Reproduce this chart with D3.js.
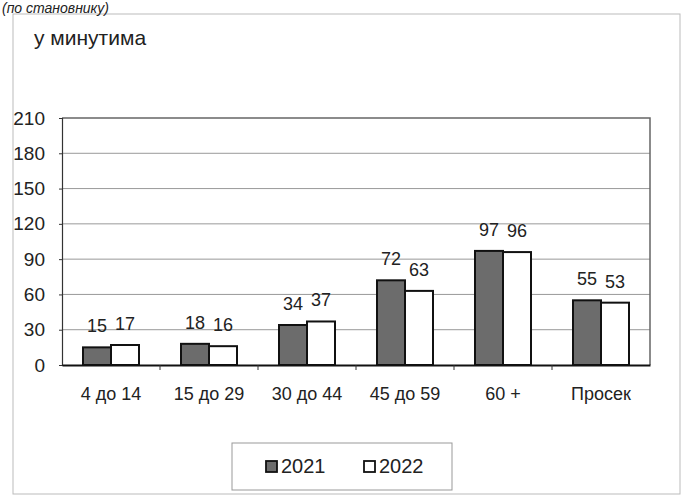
<!DOCTYPE html>
<meta charset="utf-8">
<script src="https://d3js.org/d3.v7.min.js"></script>
<style>
  body { margin: 0; background: #fff; }
  text { font-family: "Liberation Sans", Arial, sans-serif; fill: #222; }
</style>
<div id="my_dataviz"></div>
<script>

// data
var categories = ["4 до 14", "15 до 29", "30 до 44", "45 до 59", "60 +", "Просек"];
var years = ["2021", "2022"];
var values2021 = [15, 18, 34, 72, 97, 55];
var values2022 = [17, 16, 37, 63, 96, 53];
var yTicks = [0, 30, 60, 90, 120, 150, 180, 210];
var colors = {"2021": "#6c6c6c", "2022": "#ffffff"};

// dimensions
var W = 685, H = 498;
var margin = {top: 118, right: 35, bottom: 133, left: 62},
    width = W - margin.left - margin.right,
    height = H - margin.top - margin.bottom;

var svg = d3.select("#my_dataviz")
  .append("svg")
    .attr("width", W)
    .attr("height", H);

// outer frame
svg.append("rect")
  .attr("x", 13).attr("y", 14)
  .attr("width", 667).attr("height", 480)
  .attr("fill", "none")
  .attr("stroke", "#bbb")
  .attr("stroke-width", 1);

// heading from the page above (cut by the scan in the original)
svg.append("text")
  .attr("x", 2).attr("y", 13)
  .style("font-style", "italic")
  .style("font-size", "14px")
  .text("(по становнику)");

// unit label
svg.append("text")
  .attr("x", 34).attr("y", 45)
  .style("font-size", "21px")
  .text("у минутима");

var g = svg.append("g")
  .attr("transform", "translate(" + margin.left + "," + margin.top + ")");

var x = d3.scaleBand()
  .domain(categories)
  .range([0, width]);

var x1 = d3.scaleBand()
  .domain(years)
  .range([0, x.bandwidth()])
  .paddingInner(0)
  .paddingOuter(0.75);

var y = d3.scaleLinear()
  .domain([0, 210])
  .range([height, 0]);

// gridlines
g.selectAll(".grid")
  .data(yTicks.filter(function(d) { return d > 0 && d < 210; }))
  .enter().append("line")
    .attr("x1", 0).attr("x2", width)
    .attr("y1", function(d) { return y(d); })
    .attr("y2", function(d) { return y(d); })
    .attr("stroke", "#999")
    .attr("stroke-width", 1);

// plot border top & right
g.append("path")
  .attr("d", "M0," + y(210) + "H" + width + "V" + y(0))
  .attr("fill", "none")
  .attr("stroke", "#666")
  .attr("stroke-width", 1.5);

// Y axis
var yAxis = g.append("g")
  .call(d3.axisLeft(y).tickValues(yTicks).tickSize(3).tickPadding(14));
yAxis.select(".domain").attr("stroke", "#333").attr("stroke-width", 1.2);
yAxis.selectAll(".tick line").attr("stroke", "#333");
yAxis.selectAll("text").style("font-size", "19px").attr("fill", "#222");

// bars
var rows = categories.map(function(c, i) {
  return {cat: c, vals: [{year: "2021", v: values2021[i]}, {year: "2022", v: values2022[i]}]};
});

var groups = g.selectAll(".grp")
  .data(rows)
  .enter().append("g")
    .attr("transform", function(d) { return "translate(" + x(d.cat) + ",0)"; });

groups.selectAll("rect")
  .data(function(d) { return d.vals; })
  .enter().append("rect")
    .attr("x", function(d) { return x1(d.year); })
    .attr("y", function(d) { return y(d.v); })
    .attr("width", x1.bandwidth())
    .attr("height", function(d) { return y(0) - y(d.v); })
    .attr("fill", function(d) { return colors[d.year]; })
    .attr("stroke", "#111")
    .attr("stroke-width", 2);

groups.selectAll(".lbl")
  .data(function(d) { return d.vals; })
  .enter().append("text")
    .attr("x", function(d) { return x1(d.year) + x1.bandwidth() / 2; })
    .attr("y", function(d) { return y(d.v) - 15; })
    .attr("text-anchor", "middle")
    .style("font-size", "18px")
    .text(function(d) { return d.v; });

// X axis
var xAxis = g.append("g")
  .attr("transform", "translate(0," + height + ")")
  .call(d3.axisBottom(x).tickSize(0).tickPadding(22));
xAxis.select(".domain").attr("stroke", "#111").attr("stroke-width", 2);
xAxis.selectAll("text").style("font-size", "18px").attr("fill", "#222");

// category separator ticks
g.selectAll(".sep")
  .data(categories.slice(1))
  .enter().append("line")
    .attr("x1", function(d) { return x(d); })
    .attr("x2", function(d) { return x(d); })
    .attr("y1", height).attr("y2", height + 5)
    .attr("stroke", "#333");

// legend
var legend = svg.append("g").attr("transform", "translate(232,443)");
legend.append("rect")
  .attr("width", 220).attr("height", 47)
  .attr("fill", "none")
  .attr("stroke", "#999");

var items = legend.selectAll(".item")
  .data(years)
  .enter().append("g")
    .attr("transform", function(d, i) { return "translate(" + (34 + i * 98) + ",18)"; });

items.append("rect")
  .attr("width", 11).attr("height", 11)
  .attr("fill", function(d) { return colors[d]; })
  .attr("stroke", "#111")
  .attr("stroke-width", 1.8);

items.append("text")
  .attr("x", 15).attr("y", 12)
  .style("font-size", "20px")
  .text(function(d) { return d; });

</script>
